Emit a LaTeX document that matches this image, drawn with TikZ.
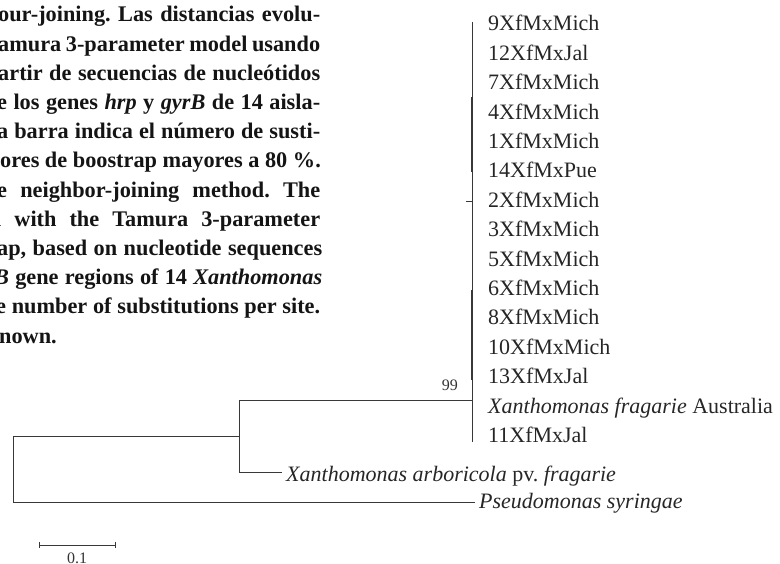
\documentclass[tikz,border=0pt]{standalone}
\usepackage{fontspec}
\setmainfont{Liberation Serif}
\frenchspacing
\begin{document}
\begin{tikzpicture}[x=1pt,y=-1pt,
  branch/.style={line width=0.9pt, draw=black!78},
  heavy/.style={line width=1.6pt, draw=black!78},
  leaf/.style={anchor=base west, inner sep=0pt, font=\fontsize{22}{24}\selectfont, text=black!85},
  tip/.style={anchor=base west, inner ysep=0pt, inner xsep=4pt, font=\fontsize{22}{24}\selectfont, text=black!85},
  support/.style={anchor=base east, inner sep=0pt, font=\fontsize{16}{18}\selectfont, text=black!80},
  capline/.style={anchor=base west, inner sep=0pt, font=\fontsize{22.3}{24}\selectfont\bfseries, text=black!92}]
\useasboundingbox (0,0) rectangle (780,564);
\clip (0,0) rectangle (780,564);

% caption block, justified and cut at the left margin
\node[capline] (c1)  at (-2,22)    {\makebox[322pt][s]{our-joining. Las distancias evolu-}};
\node[capline] (c2)  at (-2,51.2)  {\makebox[322pt][s]{amura 3-parameter model usando}};
\node[capline] (c3)  at (-2,80.4)  {\makebox[322pt][s]{artir de secuencias de nucleótidos}};
\node[capline] (c4)  at (-3,109.6) {\makebox[323pt][s]{e los genes \textit{hrp} y \textit{gyrB} de 14 aisla-}};
\node[capline] (c5)  at (-3,138.8) {\makebox[323pt][s]{a barra indica el número de susti-}};
\node[capline] (c6)  at (0,168)    {ores de boostrap mayores a 80 \%.};
\node[capline] (c7)  at (-3,197.2) {\makebox[323pt][s]{e neighbor-joining method. The}};
\node[capline] (c8)  at (-5,226.4) {\makebox[325pt][s]{l with the Tamura 3-parameter}};
\node[capline] (c9)  at (-3,255.6) {\makebox[325pt][s]{ap, based on nucleotide sequences}};
\node[capline] (c10) at (-6,284.8) {\makebox[328pt][s]{\textit{B} gene regions of 14 \textit{Xanthomonas}}};
\node[capline] (c11) at (-4,314)   {\makebox[324pt][s]{e number of substitutions per site.}};
\node[capline] (c12) at (-1,343.2) {nown.};

% leaves of the Xanthomonas fragariae clade
\node[leaf] (l1)  at (488,31)    {9XfMxMich};
\node[leaf] (l2)  at (488,60.4)  {12XfMxJal};
\node[leaf] (l3)  at (488,89.8)  {7XfMxMich};
\node[leaf] (l4)  at (488,119.2) {4XfMxMich};
\node[leaf] (l5)  at (488,148.6) {1XfMxMich};
\node[leaf] (l6)  at (488,178)   {14XfMxPue};
\node[leaf] (l7)  at (488,207.4) {2XfMxMich};
\node[leaf] (l8)  at (488,236.8) {3XfMxMich};
\node[leaf] (l9)  at (488,266.2) {5XfMxMich};
\node[leaf] (l10) at (488,295.6) {6XfMxMich};
\node[leaf] (l11) at (488,325)   {8XfMxMich};
\node[leaf] (l12) at (488,354.4) {10XfMxMich};
\node[leaf] (l13) at (488,383.8) {13XfMxJal};
\node[leaf] (l14) at (488,413.2) {\textit{Xanthomonas fragarie} Australia};
\node[leaf] (l15) at (488,442.6) {11XfMxJal};

% internal nodes
\coordinate (ctop) at (472,22);
\coordinate (cbot) at (472,442);
\coordinate (cnode) at (472,400);
\coordinate (ctick) at (466,201);
\coordinate (n1up) at (239,400);
\coordinate (n1) at (239,436);
\coordinate (n1dn) at (239,472);
\coordinate (rootup) at (13,436);
\coordinate (rootdn) at (13,502);

% outgroups
\node[tip] (arb) at (282,481) {\textit{Xanthomonas arboricola} pv. \textit{fragarie}};
\node[tip] (pse) at (475,508) {\textit{Pseudomonas syringae}};

% branches
\draw[branch] (ctop) -- (cbot);
\draw[heavy] (472,97) -- (472,172);
\draw[heavy] (472,290) -- (472,380);
\draw[branch] (ctick) -- (ctick -| ctop);
\draw[branch] (n1up) -- (cnode);
\draw[branch] (n1up) -- (n1dn);
\draw[branch] (n1dn) -- (n1dn -| arb.west);
\draw[branch] (rootup) -- (rootdn);
\draw[branch] (rootup) -- (n1);
\draw[branch] (rootdn) -- (rootdn -| pse.west);

\node[support] (bs) at (458,391) {99};

% scale bar
\coordinate (sa) at (39,545);
\coordinate (sb) at (115,545);
\draw[branch] (sa) -- (sb);
\draw[branch] ([yshift=-3pt]sa) -- ([yshift=3pt]sa);
\draw[branch] ([yshift=-3pt]sb) -- ([yshift=3pt]sb);
\node[anchor=north, inner sep=0pt, font=\fontsize{16}{18}\selectfont, text=black!80] (sl) at (77,553) {0.1};
\end{tikzpicture}
\end{document}
